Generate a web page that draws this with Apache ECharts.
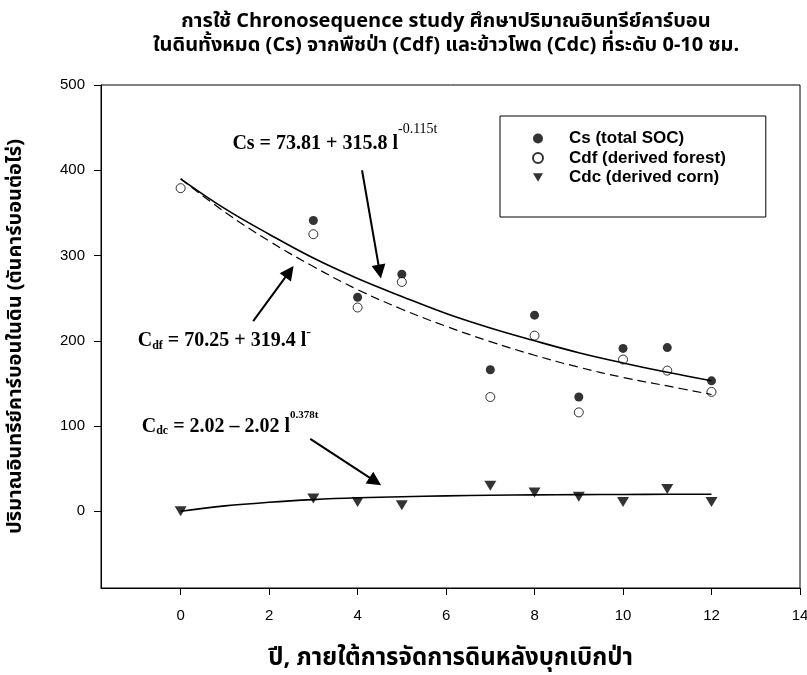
<!DOCTYPE html>
<html lang="th">
<head>
    <meta charset="UTF-8">
    <title>Chronosequence SOC</title>
    <script src="https://cdn.jsdelivr.net/npm/echarts@6/dist/echarts.min.js"></script>
    <style>
        html, body { margin: 0; padding: 0; background: #fff; }
        #chart { width: 807px; height: 675px; }
    </style>
</head>
<body>
<div id="chart"></div>
<script>
    // observed points (years after clearing); Cs at year 0 sits under the Cdf circle
    var years = [0, 3, 4, 5, 7, 8, 9, 10, 11, 12];
    var csTotal = [null, 341, 251, 278, 166, 230, 134, 191, 192, 153];
    var cdfForest = [379, 325, 239, 269, 134, 206, 116, 178, 165, 140];
    var cdcCorn = [0, 15, 11, 7, 30, 22, 17, 11, 26, 11];

    // fitted curves at whole years
    var fitYears = [0, 1, 2, 3, 4, 5, 6, 7, 8, 9, 10, 11, 12];
    var csFit = [390, 355, 325, 297, 273, 252, 232, 215, 200, 186, 174, 163, 153];
    var cdfFit = [390, 351, 317, 287, 260, 237, 217, 199, 183, 169, 157, 147, 137];
    var cdcFit = [0, 6.3, 10.6, 13.7, 15.8, 17.1, 18.1, 18.8, 19.2, 19.5, 19.7, 19.9, 20.0];

    var xTicks = [0, 2, 4, 6, 8, 10, 12, 14];
    var yTicks = [0, 100, 200, 300, 400, 500];

    var seriesNames = ['Cs (total SOC)', 'Cdf (derived forest)', 'Cdc (derived corn)'];

    // annotation arrows [from, to] in data units
    var arrows = [
        [[4.10, 400], [4.50, 281]],
        [[1.64, 223], [2.46, 281]],
        [[2.93, 85], [4.40, 35]]
    ];

    var thaiFont = 'Tahoma, "Noto Sans Thai", "Noto Sans", "DejaVu Sans", sans-serif';
    var serif = '"Liberation Serif", "Times New Roman", serif';
    var sans = '"Liberation Sans", Arial, sans-serif';

    function pairs(xs, ys) {
        return xs.map(function (x, i) { return [x, ys[i]]; });
    }

    var eqRich = {
        m: { fontFamily: serif, fontWeight: 'bold', fontSize: 20, lineHeight: 22, padding: [12, 0, 0, 0], verticalAlign: 'top', color: '#000' },
        sup: { fontFamily: serif, fontSize: 14, lineHeight: 14, verticalAlign: 'top', color: '#000' },
        supb: { fontFamily: serif, fontWeight: 'bold', fontSize: 11, lineHeight: 12, padding: [5, 0, 0, 0], verticalAlign: 'top', color: '#000' },
        dash: { fontFamily: serif, fontSize: 14, lineHeight: 14, padding: [6, 0, 0, 0], verticalAlign: 'top', color: '#000' },
        sub: { fontFamily: serif, fontWeight: 'bold', fontSize: 12, lineHeight: 12, padding: [21, 0, 0, 0], verticalAlign: 'top', color: '#000' }
    };

    var chart = echarts.init(document.getElementById('chart'));
    var option = {
        animation: false,
        backgroundColor: '#fff',
        title: {
            text: 'การใช้ Chronosequence study ศึกษาปริมาณอินทรีย์คาร์บอน\nในดินทั้งหมด (Cs) จากพืชป่า (Cdf) และข้าวโพด (Cdc) ที่ระดับ 0-10 ซม.',
            left: 441,
            top: 6,
            textAlign: 'center',
            textStyle: { fontFamily: thaiFont, fontWeight: 'bold', fontSize: 20, lineHeight: 24, color: '#000' }
        },
        legend: {
            data: seriesNames,
            orient: 'vertical',
            left: 500,
            top: 116,
            padding: [14, 40, 31, 32],
            itemWidth: 10,
            itemHeight: 10,
            itemGap: 2.5,
            borderColor: '#000',
            borderWidth: 1,
            backgroundColor: '#fff',
            textStyle: { fontFamily: sans, fontWeight: 'bold', fontSize: 17, lineHeight: 17, color: '#000', padding: [0, 0, 0, 21] }
        },
        grid: {
            left: 101, right: 7, top: 85, bottom: 87,
            show: true, borderColor: '#000', borderWidth: 1,
            outerBoundsMode: 'none'
        },
        xAxis: {
            type: 'value',
            min: -1.8,
            max: 14,
            name: 'ปี, ภายใต้การจัดการดินหลังบุกเบิกป่า',
            nameLocation: 'middle',
            nameGap: 60,
            nameTextStyle: { fontFamily: thaiFont, fontWeight: 'bold', fontSize: 24, color: '#000' },
            axisLine: { onZero: false, lineStyle: { color: '#000', width: 1 } },
            axisTick: { show: true, length: 7, customValues: xTicks, lineStyle: { color: '#000' } },
            axisLabel: { customValues: xTicks, margin: 20, fontFamily: sans, fontSize: 15, color: '#000' },
            splitLine: { show: false }
        },
        yAxis: {
            type: 'value',
            min: -90,
            max: 500,
            name: 'ปริมาณอินทรีย์คาร์บอนในดิน (ตันคาร์บอนต่อไร่)',
            nameLocation: 'middle',
            nameGap: 74,
            nameTextStyle: { fontFamily: thaiFont, fontWeight: 'bold', fontSize: 20, color: '#000' },
            axisLine: { show: true, onZero: false, lineStyle: { color: '#000', width: 1 } },
            axisTick: { show: true, length: 7, customValues: yTicks, lineStyle: { color: '#000' } },
            axisLabel: { customValues: yTicks, margin: 16, fontFamily: sans, fontSize: 15, color: '#000' },
            splitLine: { show: false }
        },
        series: [
            {
                name: 'Cs fit',
                type: 'line',
                data: pairs(fitYears, csFit),
                smooth: 0.4,
                showSymbol: false,
                silent: true,
                lineStyle: { color: '#000', width: 1.6 },
                markLine: {
                    silent: true,
                    symbol: ['none', 'triangle'],
                    symbolSize: 14,
                    label: { show: false },
                    lineStyle: { color: '#000', width: 2, type: 'solid' },
                    itemStyle: { color: '#000' },
                    data: arrows.map(function (a) {
                        return [{ coord: a[0] }, { coord: a[1] }];
                    })
                },
                markPoint: {
                    silent: true,
                    symbolSize: 0,
                    label: { show: true, position: 'right', distance: 0, color: '#000', rich: eqRich },
                    data: [
                        { coord: [1.17, 443.5], value: 0, label: { formatter: '{m|Cs = 73.81 + 315.8 l}{sup|-0.115t}' } },
                        { coord: [-0.97, 212.5], value: 0, label: { formatter: '{m|C}{sub|df}{m| = 70.25 + 319.4 l}{dash|-}' } },
                        { coord: [-0.88, 112.5], value: 0, label: { formatter: '{m|C}{sub|dc}{m| = 2.02 \u2013 2.02 l}{supb|0.378t}' } }
                    ]
                }
            },
            {
                name: 'Cdf fit',
                type: 'line',
                data: pairs(fitYears, cdfFit),
                smooth: 0.4,
                showSymbol: false,
                silent: true,
                lineStyle: { color: '#000', width: 1.2, type: [9, 5] }
            },
            {
                name: 'Cdc fit',
                type: 'line',
                data: pairs(fitYears, cdcFit),
                smooth: 0.4,
                showSymbol: false,
                silent: true,
                lineStyle: { color: '#000', width: 1.6 }
            },
            {
                name: seriesNames[0],
                type: 'scatter',
                data: pairs(years, csTotal),
                symbol: 'circle',
                symbolSize: 9,
                itemStyle: { color: '#000' }
            },
            {
                name: seriesNames[1],
                type: 'scatter',
                data: pairs(years, cdfForest),
                symbol: 'circle',
                symbolSize: 9,
                itemStyle: { color: '#fff', borderColor: '#000', borderWidth: 1 }
            },
            {
                name: seriesNames[2],
                type: 'scatter',
                data: pairs(years, cdcCorn),
                symbol: 'path://M0,0 L12,0 L6,10 Z',
                symbolSize: [12, 10],
                itemStyle: { color: '#000' }
            }
        ]
    };
    chart.setOption(option);
</script>
</body>
</html>
